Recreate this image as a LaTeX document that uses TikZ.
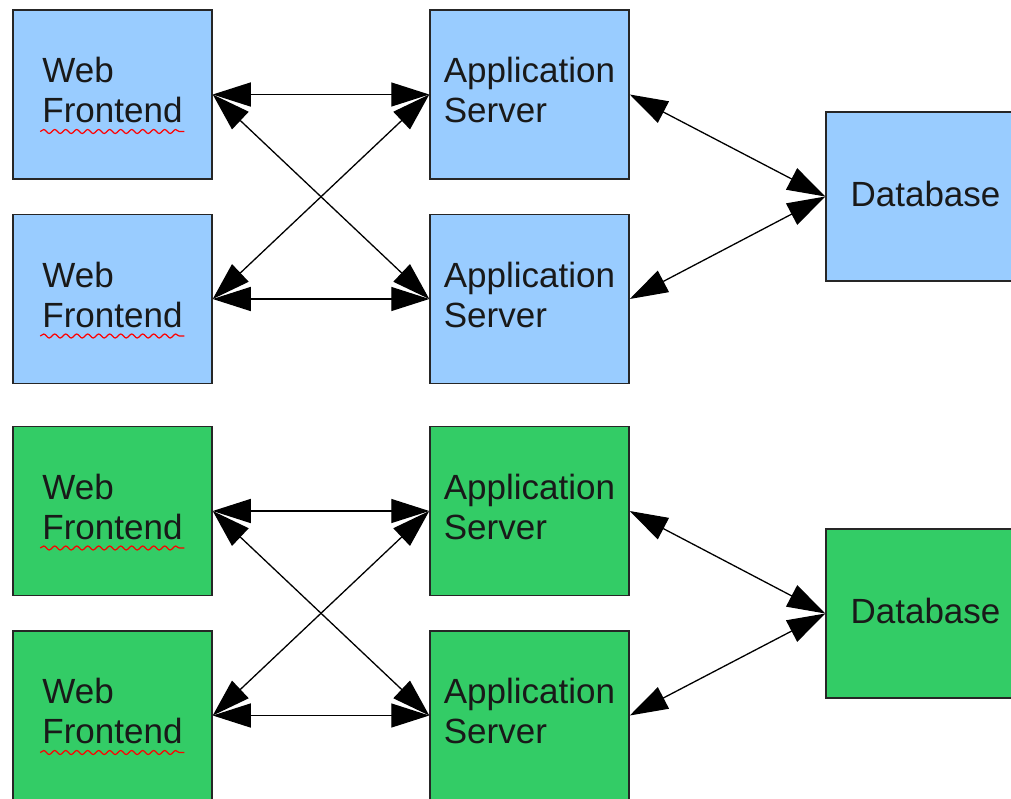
\documentclass[tikz,border=0pt]{standalone}
\usepackage{fontspec}
\setmainfont{Liberation Sans}
\usetikzlibrary{arrows.meta,decorations.pathmorphing}
\definecolor{tierblue}{HTML}{99CCFF}
\definecolor{tiergreen}{HTML}{33CC66}
% extra depth on the last line lifts the two-line labels a little
\newcommand\tailstrut{\rule[-9pt]{0pt}{9pt}}
\begin{document}
\begin{tikzpicture}[x=1pt,y=-1pt,
  box/.style={draw=black!85, line width=1.5pt, minimum width=199pt,
    minimum height=169pt, inner sep=0pt, align=left,
    font=\fontsize{35}{40}\selectfont, text=black!90},
  blue tier/.style={box, fill=tierblue},
  green tier/.style={box, fill=tiergreen},
  link/.style={line width=1.3pt,
    {Triangle[length=38pt,width=24pt]}-{Triangle[length=38pt,width=24pt]}},
  spell/.style={red, line width=1.2pt, decorate,
    decoration={snake, amplitude=2pt, segment length=11pt}}]
\useasboundingbox (0,0) rectangle (1011,798);
\clip (0,0) rectangle (1011,798);

% first cluster
\node[blue tier] (wfa) at (112.5,94.5) {Web\\Frontend\tailstrut};
\node[blue tier] (wfb) at (112.5,299) {Web\\Frontend\tailstrut};
\node[blue tier] (asa) at (529.5,94.5) {Application\\Server\tailstrut};
\node[blue tier] (asb) at (529.5,299) {Application\\Server\tailstrut};
\node[blue tier] (dba) at (925.5,196.5) {Database\rule[-6pt]{0pt}{6pt}};

% second cluster
\node[green tier] (wfc) at (112.5,511) {Web\\Frontend\tailstrut};
\node[green tier] (wfd) at (112.5,715.5) {Web\\Frontend\tailstrut};
\node[green tier] (asc) at (529.5,511) {Application\\Server\tailstrut};
\node[green tier] (asd) at (529.5,715.5) {Application\\Server\tailstrut};
\node[green tier] (dbb) at (925.5,613.5) {Database\rule[-6pt]{0pt}{6pt}};

% spell-check underlines
\foreach \n in {wfa,wfb,wfc,wfd}
  \draw[spell] ([xshift=28pt,yshift=-37pt]\n.west) -- ++(144,0);

% connections
\draw[link] (wfa.east) -- (asa.west);
\draw[link] (wfa.east) -- (asb.west);
\draw[link] (wfb.east) -- (asa.west);
\draw[link] (wfb.east) -- (asb.west);
\draw[link] (asa.east) -- (dba.west);
\draw[link] (asb.east) -- (dba.west);

\draw[link] (wfc.east) -- (asc.west);
\draw[link] (wfc.east) -- (asd.west);
\draw[link] (wfd.east) -- (asc.west);
\draw[link] (wfd.east) -- (asd.west);
\draw[link] (asc.east) -- (dbb.west);
\draw[link] (asd.east) -- (dbb.west);
\end{tikzpicture}
\end{document}
